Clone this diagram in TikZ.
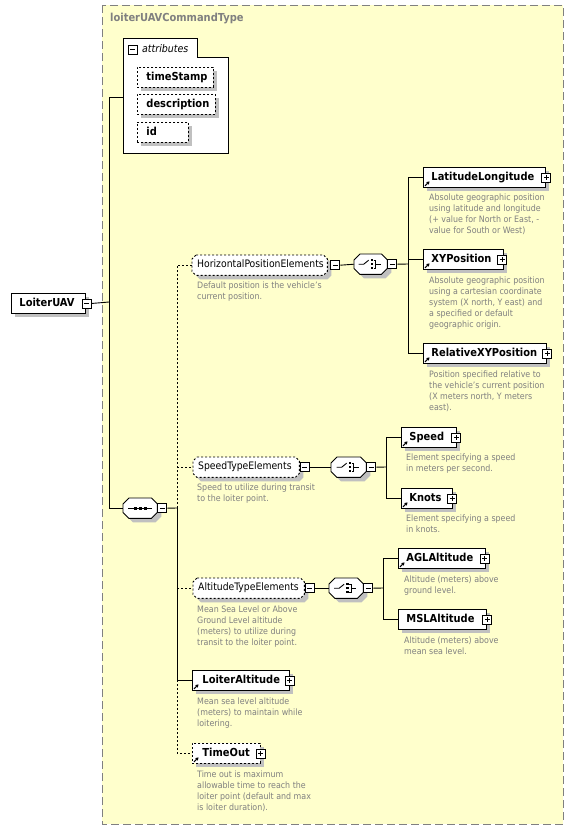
\documentclass[tikz,border=0pt]{standalone}
\usepackage{fontspec}
\setmainfont{DejaVu Sans Condensed}
\usetikzlibrary{shadows,arrows.meta}
\definecolor{bgyellow}{RGB}{255,255,204}
\definecolor{framegray}{RGB}{128,128,128}
\definecolor{descgray}{RGB}{128,128,128}
\definecolor{shadowgray}{RGB}{192,192,192}
\pgfdeclarelayer{framelayer}
\pgfdeclarelayer{shapelayer}
\pgfsetlayers{framelayer,shapelayer,main}
% octagon path around a named node: name, chamfer, dx, dy
\newcommand\octpath[4]{([shift={(#2+#3,#4)}]#1.north west) -- ([shift={(-#2+#3,#4)}]#1.north east) -- ([shift={(#3,-#2+#4)}]#1.north east) -- ([shift={(#3,#2+#4)}]#1.south east) -- ([shift={(-#2+#3,#4)}]#1.south east) -- ([shift={(#2+#3,#4)}]#1.south west) -- ([shift={(#3,#2+#4)}]#1.south west) -- ([shift={(#3,-#2+#4)}]#1.north west) -- cycle}
\tikzset{
  shadowed/.style={drop shadow={shadow xshift=4pt,shadow yshift=-4pt,fill=shadowgray,opacity=1}},
  elbox/.style={draw, line width=0.9pt, fill=white, shadowed, anchor=north west, minimum height=20pt,
    inner xsep=8pt, inner ysep=0pt, align=left, text height=8pt, text depth=2.3pt,
    font=\fontsize{11}{13}\selectfont\bfseries},
  optbox/.style={elbox, dash pattern=on 2pt off 2pt},
  attrbox/.style={elbox, dash pattern=on 2pt off 2pt, inner xsep=9pt},
  grpbox/.style={anchor=north west, minimum height=20pt, inner xsep=5pt,
    inner ysep=0pt, align=left, text height=7.5pt, text depth=2.2pt,
    font=\fontsize{10.3}{12}\selectfont},
  compbox/.style={anchor=north west, minimum height=20pt, inner sep=0pt},
  pmbase/.style={draw, line width=0.9pt, fill=white, minimum size=9pt, inner sep=0pt},
  minusbox/.style={pmbase, path picture={\draw[line width=0.9pt] ([xshift=2pt]path picture bounding box.west) -- ([xshift=-2pt]path picture bounding box.east);}},
  plusbox/.style={pmbase, path picture={\draw[line width=0.9pt] ([xshift=2pt]path picture bounding box.west) -- ([xshift=-2pt]path picture bounding box.east);
      \draw[line width=0.9pt] ([yshift=-2pt]path picture bounding box.north) -- ([yshift=2pt]path picture bounding box.south);}},
  desc/.style={anchor=north west, inner sep=0pt, align=left, text=descgray, font=\fontsize{8.8}{11}\selectfont},
  refarr/.style={-{Triangle[length=2.8pt,width=3.4pt]}, line width=1pt},
  conn/.style={line width=0.9pt},
  optconn/.style={line width=0.9pt, dash pattern=on 2pt off 2pt},
}
\begin{document}
\begin{tikzpicture}[x=1pt,y=-1pt]
\useasboundingbox (0,0) rectangle (574,830);
% type frame
\begin{pgfonlayer}{framelayer}
\fill[white] (0,0) rectangle (574,830);
\draw[fill=bgyellow, draw=framegray, line width=1pt, dash pattern=on 8pt off 4pt] (102,5) rectangle (563,824);
\end{pgfonlayer}
\node[anchor=west, inner sep=0pt, text=framegray, font=\fontsize{11}{13}\selectfont\bfseries] (title) at (110,19) {loiterUAVCommandType};
% attributes
\draw[fill=white, line width=0.9pt] (123,38) -- (197,38) -- (197,57) -- (228,57) -- (228,153) -- (123,153) -- cycle;
\node[minusbox] (attr-m) at (132.8,49.5) {};
\node[anchor=west, inner sep=0pt, font=\fontsize{10.5}{12}\selectfont\itshape] (attrT) at (142,48.5) {attributes};
\node[attrbox, text width=58pt] (ts) at (137,67) {timeStamp};
\node[attrbox, text width=60pt] (dsc) at (137,94) {description};
\node[attrbox, text width=33pt] (aid) at (137,122) {id};
\coordinate (attrL) at (123,97);
% root element
\node[elbox, text width=58pt, inner xsep=8pt] (lu) at (11,293) {LoiterUAV};
\node[minusbox] (lu-m) at ([xshift=1pt]lu.east) {};
% sequence
\node[compbox, minimum width=34pt] (seq) at (123,498) {};
\node[minusbox, anchor=west] (seq-m) at (seq.east) {};
\draw[conn] ([xshift=-12pt]seq.center) -- ([xshift=12pt]seq.center);
\foreach \dx in {-6.5,-1.5,3.5}{\fill ([shift={(\dx pt,-1.5pt)}]seq.center) rectangle +(3pt,3pt);}
% bus lines from root
\coordinate (bus0) at (109,302);
\draw[conn] (lu-m.east) -- (bus0);
\draw[conn] (bus0) |- (attrL);
\draw[conn] (bus0) |- (seq.west);
% groups
\node[grpbox, text width=125pt] (hpe) at (192,255) {HorizontalPositionElements};
\node[minusbox, anchor=west] (hpe-m) at ([xshift=3pt]hpe.east) {};
\node[grpbox, text width=96pt] (ste) at (193,457) {SpeedTypeElements};
\node[minusbox, anchor=west] (ste-m) at ([xshift=0.5pt]ste.east) {};
\node[grpbox, text width=101pt] (ate) at (193,578) {AltitudeTypeElements};
\node[minusbox, anchor=west] (ate-m) at ([xshift=0.5pt]ate.east) {};
\node[desc] (hpe-d) at (197,282) {Default position is the vehicle's\\current position.};
\node[desc] (ste-d) at (197,484) {Speed to utilize during transit\\to the loiter point.};
\node[desc] (ate-d) at (197,606) {Mean Sea Level or Above\\Ground Level altitude\\(meters) to utilize during\\transit to the loiter point.};
% elements in sequence
\node[elbox, text width=81pt, inner xsep=8pt] (la) at (192,670) {\hspace*{2pt}LoiterAltitude};
\node[plusbox] (la-p) at (la.east) {};
\node[desc] (la-d) at (197,698) {Mean sea level altitude\\(meters) to maintain while\\loitering.};
\node[optbox, text width=52pt] (to) at (192,743) {\hspace*{2pt}TimeOut};
\node[plusbox] (to-p) at (to.east) {};
\node[desc] (to-d) at (197,771) {Time out is maximum\\allowable time to reach the\\loiter point (default and max\\is loiter duration).};
% sequence bus
\coordinate (sb) at (177,508);
\draw[conn] (seq-m.east) -- (sb);
\draw[optconn] (sb) |- (hpe.west);
\draw[optconn] (sb |- ste.west) -- (ste.west);
\draw[conn] (sb) |- (la.west);
\draw[optconn] (sb |- ate.west) -- (ate.west);
\draw[optconn] (sb |- la.west) |- (to.west);
% choice 1
\node[compbox, minimum width=33pt] (ch1) at (354,254) {};
\node[minusbox, anchor=west] (ch1-m) at (ch1.east) {};
\draw[conn] (hpe-m.east) -- (ch1.west);
\node[elbox, text width=106pt] (latlon) at (423,167) {LatitudeLongitude};
\node[plusbox] (latlon-p) at ([xshift=0.5pt]latlon.east) {};
\node[elbox, text width=64pt] (xy) at (423,249) {XYPosition};
\node[plusbox] (xy-p) at ([xshift=-1.5pt]xy.east) {};
\node[elbox, text width=107pt] (rel) at (423,343) {RelativeXYPosition};
\node[plusbox] (rel-p) at ([xshift=0.5pt]rel.east) {};
\coordinate (b1) at (408,264);
\draw[conn] (ch1-m.east) -- (b1);
\draw[conn] (b1) |- (latlon.west);
\draw[conn] (b1) |- (xy.west);
\draw[conn] (b1) |- (rel.west);
\node[desc] (latlon-d) at (429,194) {Absolute geographic position\\using latitude and longitude\\(+ value for North or East, -\\value for South or West)};
\node[desc] (xy-d) at (429,277) {Absolute geographic position\\using a cartesian coordinate\\system (X north, Y east) and\\a specified or default\\geographic origin.};
\node[desc] (rel-d) at (429,371) {Position specified relative to\\the vehicle's current position\\(X meters north, Y meters\\east).};
% choice 2
\node[compbox, minimum width=35pt] (ch2) at (331,457) {};
\node[minusbox, anchor=west] (ch2-m) at (ch2.east) {};
\draw[conn] (ste-m.east) -- (ch2.west);
\node[elbox, text width=39pt] (spd) at (401,427) {Speed};
\node[plusbox] (spd-p) at ([xshift=-0.5pt]spd.east) {};
\node[elbox, text width=35pt] (kn) at (401,488) {Knots};
\node[plusbox] (kn-p) at ([xshift=-0.5pt]kn.east) {};
\coordinate (b2) at (386,467);
\draw[conn] (ch2-m.east) -- (b2);
\draw[conn] (b2) |- (spd.west);
\draw[conn] (b2) |- (kn.west);
\node[desc] (spd-d) at (406,454) {Element specifying a speed\\in meters per second.};
\node[desc] (kn-d) at (406,515) {Element specifying a speed\\in knots.};
% choice 3
\node[compbox, minimum width=34pt] (ch3) at (329,578) {};
\node[minusbox, anchor=west] (ch3-m) at (ch3.east) {};
\draw[conn] (ate-m.east) -- (ch3.west);
\node[elbox, text width=71pt] (agl) at (398,548) {AGLAltitude};
\node[plusbox] (agl-p) at ([xshift=-1pt]agl.east) {};
\node[elbox, text width=72pt] (msl) at (398,609) {MSLAltitude};
\node[plusbox] (msl-p) at ([xshift=0.5pt]msl.east) {};
\coordinate (b3) at (383,588);
\draw[conn] (ch3-m.east) -- (b3);
\draw[conn] (b3) |- (agl.west);
\draw[conn] (b3) |- (msl.west);
\node[desc] (agl-d) at (404,576) {Altitude (meters) above\\ground level.};
\node[desc] (msl-d) at (404,637) {Altitude (meters) above\\mean sea level.};
% octagon outlines of compositors and groups
\begin{pgfonlayer}{shapelayer}
\foreach \c in {seq,ch1,ch2,ch3}{
  \fill[shadowgray] \octpath{\c}{6pt}{4pt}{-4pt};
  \draw[fill=white, line width=0.9pt] \octpath{\c}{6pt}{0pt}{0pt};
}
\foreach \g in {hpe,ste,ate}{
  \fill[shadowgray] \octpath{\g}{4pt}{4pt}{-4pt};
  \draw[fill=white, line width=0.9pt, dash pattern=on 2pt off 2pt] \octpath{\g}{4pt}{0pt}{0pt};
}
\end{pgfonlayer}
% choice symbols
\foreach \c in {ch1,ch2,ch3}{
  \draw[conn] ([xshift=-12pt]\c.center) -- ([xshift=-7pt]\c.center) -- ([shift={(-2pt,4pt)}]\c.center);
  \foreach \dy in {-5.2,-1.2,2.8}{\fill ([shift={(0pt,\dy pt)}]\c.center) rectangle +(2.6pt,2.6pt);}
  \draw[conn] ([shift={(3pt,3.9pt)}]\c.center) -- ([shift={(5pt,3.9pt)}]\c.center) -- ([shift={(5pt,-3.9pt)}]\c.center) -- ([shift={(3pt,-3.9pt)}]\c.center);
  \draw[conn] ([xshift=5pt]\c.center) -- ([xshift=10pt]\c.center);
}
% reference arrows
\foreach \n in {latlon,xy,rel,spd,kn,agl,la,to}{
  \draw[refarr] ([shift={(2pt,2pt)}]\n.south west) -- ++(4.5,-4.5);
}
\end{tikzpicture}
\end{document}
